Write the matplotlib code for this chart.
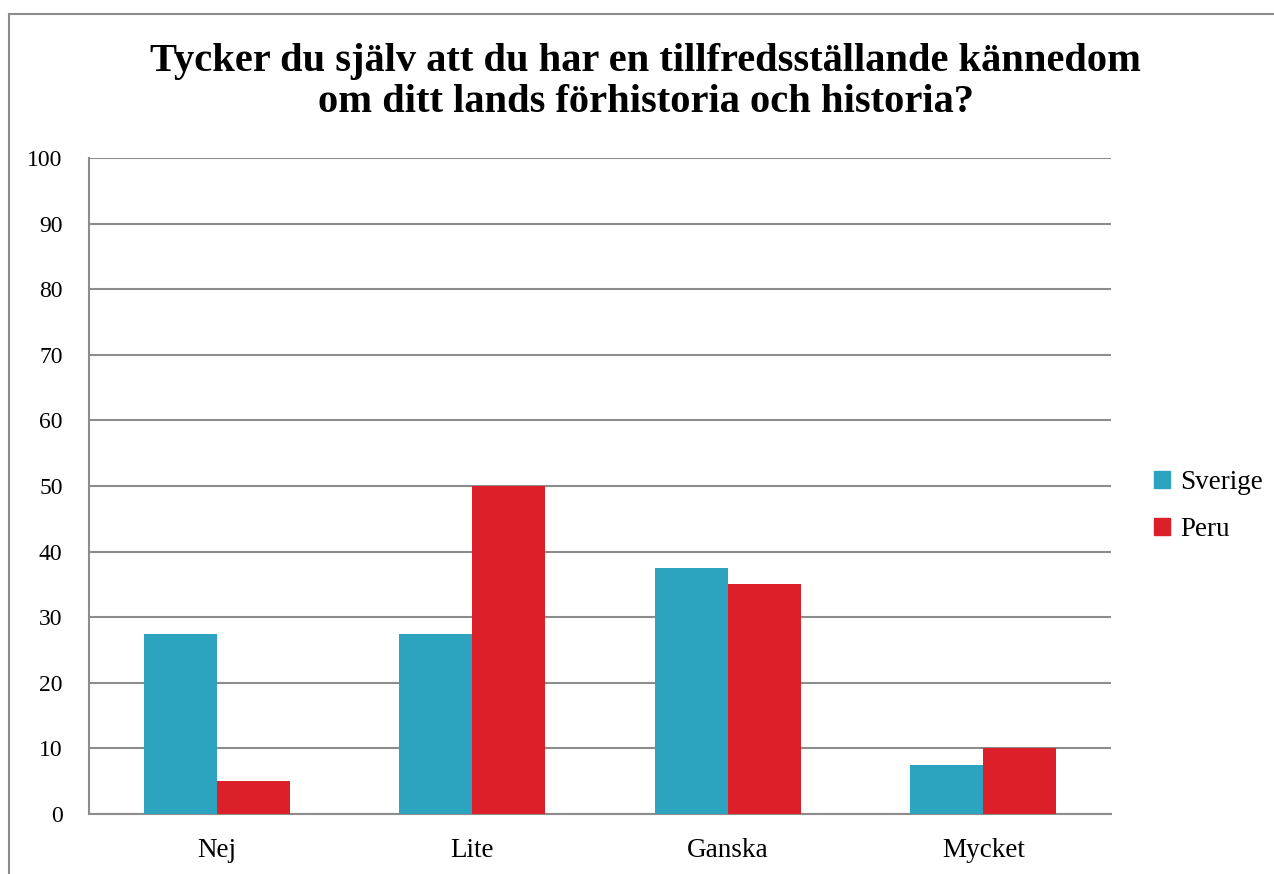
import matplotlib
matplotlib.use("Agg")
import matplotlib.pyplot as plt
import numpy as np
from matplotlib.lines import Line2D
from matplotlib.patches import Patch

categories = ["Nej", "Lite", "Ganska", "Mycket"]
sverige = [27.5, 27.5, 37.5, 7.5]
peru = [5, 50, 35, 10]
series_names = ["Sverige", "Peru"]
yticks = [0, 10, 20, 30, 40, 50, 60, 70, 80, 90, 100]
title = "Tycker du själv att du har en tillfredsställande kännedom\nom ditt lands förhistoria och historia?"

c_sv = "#2CA3BF"
c_pe = "#DC2029"
grid_c = "#8C8C8C"

plt.rcParams['font.family'] = ['Liberation Serif', 'DejaVu Serif']

fig = plt.figure(figsize=(12.74, 8.74), dpi=100)
W, H = 1274, 874
ax = fig.add_axes([89/W, 1-814/H, (1111-89)/W, (814-158)/H])

x = np.arange(len(categories))
bw = 0.286
ax.bar(x - bw/2, sverige, bw, color=c_sv, zorder=3)
ax.bar(x + bw/2, peru, bw, color=c_pe, zorder=3)

ax.set_xlim(-0.5, len(categories) - 0.5)
ax.set_ylim(0, 100)
ax.set_yticks(yticks)
ax.set_yticklabels([str(v) for v in yticks], fontsize=17)
ax.set_xticks(x)
ax.set_xticklabels(categories, fontsize=19.5)
ax.tick_params(axis='y', length=0, pad=19)
ax.tick_params(axis='x', length=0, pad=17)
ax.yaxis.grid(True, color=grid_c, linewidth=1.5, zorder=0)
for s in ['top', 'right']:
    ax.spines[s].set_visible(False)
for s in ['left', 'bottom']:
    ax.spines[s].set_color(grid_c)
    ax.spines[s].set_linewidth(1.5)

fig.text(646/W, 1-82/H, title, ha='center', va='center', fontsize=29.2,
         fontweight='bold', linespacing=1.15)

handles = [Patch(color=c_sv, label=series_names[0]), Patch(color=c_pe, label=series_names[1])]
fig.legend(handles=handles, loc='center left', bbox_to_anchor=(1146/W, 1-506/H),
           frameon=False, fontsize=19.5, handlelength=0.6, handleheight=0.6,
           handletextpad=0.35, labelspacing=0.8, borderaxespad=0, borderpad=0.3)

# outer border
fig.add_artist(Line2D([8.5/W, 8.5/W], [0, 1-13.5/H], color='#8C8C8C', linewidth=1.5))
fig.add_artist(Line2D([8.5/W, 1], [1-13.5/H, 1-13.5/H], color='#8C8C8C', linewidth=1.5))

fig.savefig("out.png", dpi=100, facecolor='white')
